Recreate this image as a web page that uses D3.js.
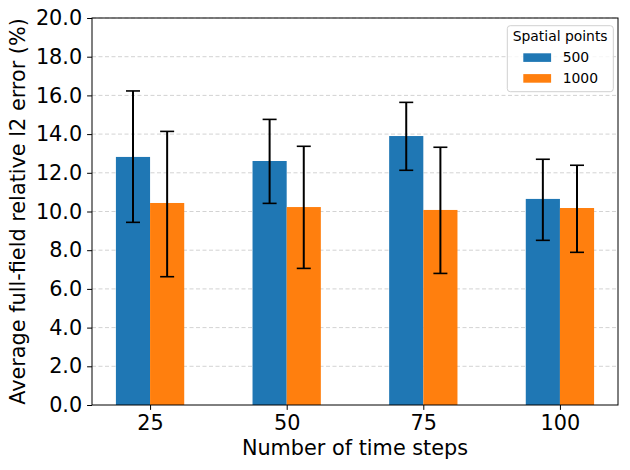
<!DOCTYPE html>
<html><head><meta charset="utf-8">
<script src="https://cdn.jsdelivr.net/npm/d3@7"></script>
<style>body{margin:0;background:#fff;} svg{display:block;font-family:"DejaVu Sans",sans-serif;}</style>
</head><body>
<svg id="c" width="630" height="470"></svg>
<script>
const categories = ["25", "50", "75", "100"];
const seriesNames = ["500", "1000"];
const values500 = [12.82, 12.61, 13.90, 10.65];
const values1000 = [10.44, 10.23, 10.08, 10.18];
const errLow500 = [9.44, 10.42, 12.13, 8.51];
const errHigh500 = [16.23, 14.76, 15.64, 12.70];
const errLow1000 = [6.63, 7.06, 6.80, 7.89];
const errHigh1000 = [14.14, 13.37, 13.32, 12.39];
const yTicks = [0, 2, 4, 6, 8, 10, 12, 14, 16, 18, 20];
const colors = ["#1f77b4", "#ff7f0e"];

const svg = d3.select("#c");
const L = 92, R = 618, T = 18, B = 405;
const x = d3.scaleLinear().domain([-0.425, 3.425]).range([L, R]);
const y = d3.scaleLinear().domain([0, 20]).range([B, T]);
const bw = x(0.25) - x(0);

// grid
svg.append("g").selectAll("line").data(yTicks.slice(1)).join("line")
  .attr("x1", L).attr("x2", R).attr("y1", d => y(d)).attr("y2", d => y(d))
  .attr("stroke", "#b0b0b0").attr("stroke-opacity", 0.7).attr("stroke-width", 0.8)
  .attr("stroke-dasharray", "4,2.5");

const series = [
  {vals: values500, lo: errLow500, hi: errHigh500, off: -0.125},
  {vals: values1000, lo: errLow1000, hi: errHigh1000, off: 0.125}
];
series.forEach((s, si) => {
  const g = svg.append("g");
  g.selectAll("rect").data(s.vals).join("rect")
    .attr("x", (d, i) => x(i + s.off) - bw / 2).attr("width", bw)
    .attr("y", d => y(d)).attr("height", d => y(0) - y(d))
    .attr("fill", colors[si]);
});
series.forEach((s) => {
  const g = svg.append("g").attr("stroke", "#000");
  s.vals.forEach((d, i) => {
    const cx = x(i + s.off);
    g.append("line").attr("x1", cx).attr("x2", cx).attr("y1", y(s.lo[i])).attr("y2", y(s.hi[i])).attr("stroke-width", 2);
    [s.lo[i], s.hi[i]].forEach(v => {
      g.append("line").attr("x1", cx - 7).attr("x2", cx + 7).attr("y1", y(v)).attr("y2", y(v)).attr("stroke-width", 1.6);
    });
  });
});

// axes
const yAxis = d3.axisLeft(y).tickValues(yTicks).tickFormat(d3.format(".1f")).tickSize(4.9).tickPadding(4.9);
const gy = svg.append("g").attr("transform", `translate(${L},0)`).call(yAxis);
const xAxis = d3.axisBottom(x).tickValues([0, 1, 2, 3]).tickFormat(i => categories[i]).tickSize(4.9).tickPadding(4.9);
const gx = svg.append("g").attr("transform", `translate(0,${B})`).call(xAxis);
[gx, gy].forEach(g => {
  g.select(".domain").remove();
  g.selectAll("text").attr("font-size", 20.8).attr("font-family", "DejaVu Sans").attr("fill", "#000");
  g.selectAll("line").attr("stroke", "#000").attr("stroke-width", 1);
});
svg.append("rect").attr("x", L).attr("y", T).attr("width", R - L).attr("height", B - T)
  .attr("fill", "none").attr("stroke", "#000").attr("stroke-width", 1);

svg.append("text").attr("x", (L + R) / 2).attr("y", 455).attr("text-anchor", "middle")
  .attr("font-size", 20.8).text("Number of time steps");
svg.append("text").attr("transform", `translate(25,${(T + B) / 2}) rotate(-90)`).attr("text-anchor", "middle")
  .attr("font-size", 20.8).text("Average full-field relative l2 error (%)");

// legend
const lg = svg.append("g");
lg.append("rect").attr("x", 507.3).attr("y", 25.7).attr("width", 106).attr("height", 66).attr("rx", 3)
  .attr("fill", "#fff").attr("fill-opacity", 0.8).attr("stroke", "#d0d0d0").attr("stroke-width", 1);
lg.append("text").attr("x", 512.7).attr("y", 40.7).attr("font-size", 13.9).text("Spatial points");
seriesNames.forEach((n, i) => {
  lg.append("rect").attr("x", 523.3).attr("y", 53.3 + i * 20.8).attr("width", 27.8).attr("height", 8.6).attr("fill", colors[i]);
  lg.append("text").attr("x", 562.7).attr("y", 61.7 + i * 20.8).attr("font-size", 13.9).text(n);
});
</script>
</body></html>
